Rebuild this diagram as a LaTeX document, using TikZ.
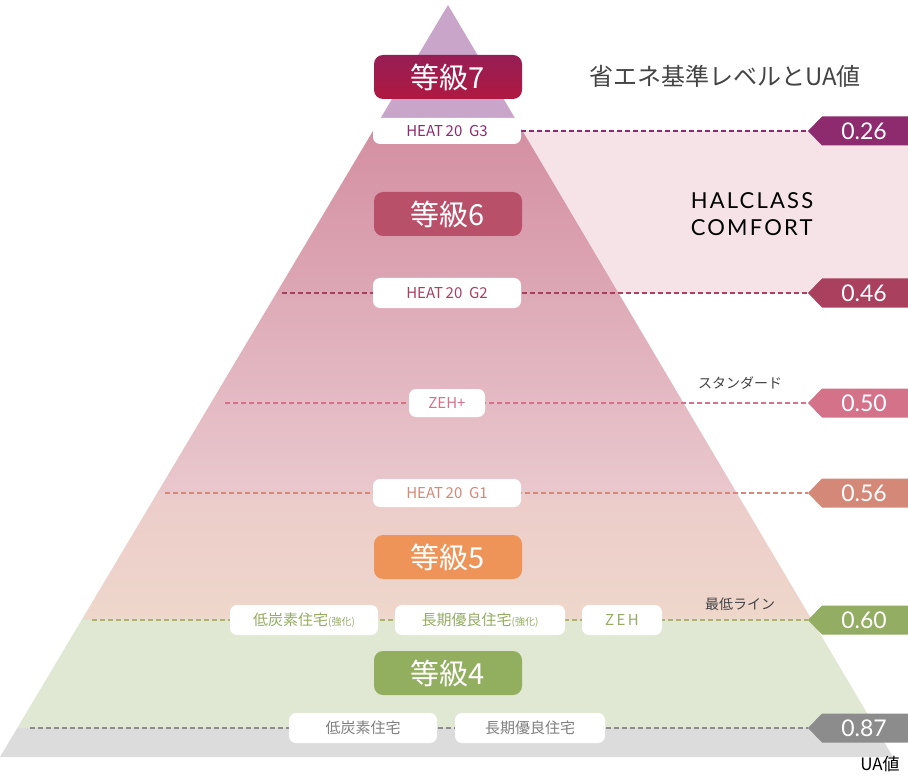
\documentclass[tikz,border=0pt]{standalone}
\usepackage{fontspec}
\setmainfont{Noto Sans CJK JP}
\newfontfamily\jpf{Noto Sans CJK JP}
\newfontfamily\latf{Lato}
\usetikzlibrary{shapes.misc}
\definecolor{cA}{HTML}{8E2A6E}\definecolor{cB}{HTML}{A8405E}\definecolor{cC}{HTML}{D4728A}
\definecolor{cD}{HTML}{D48878}\definecolor{cE}{HTML}{93AD63}\definecolor{cF}{HTML}{8C8C8C}
\definecolor{txt}{HTML}{444444}
\tikzset{
 grade/.style={rounded corners=9pt,minimum width=148pt,minimum height=44pt,text=white,font=\jpf\fontsize{29}{29}\selectfont,inner sep=0pt},
 wbox/.style={fill=white,rounded corners=7pt,minimum height=28pt,inner sep=0pt,font=\fontsize{15}{15}\selectfont},
 dline/.style={dashed,dash pattern=on 5pt off 3pt,line width=1.3pt},
}
\begin{document}
\begin{tikzpicture}[x=1pt,y=-1pt]
\useasboundingbox (0,0) rectangle (908,778);
\fill[white] (0,0) rectangle (908,778);
\fill[color={rgb,255:red,245;green,227;blue,232}] (448,131) rectangle (908,293);
\begin{scope}
\clip (448,5) -- (893,757) -- (0,757) -- cycle;
\fill[color={rgb,255:red,201;green,166;blue,201}] (0,0) rectangle (908,131);
\shade[top color={rgb,255:red,212;green,144;blue,163},bottom color={rgb,255:red,221;green,167;blue,181}] (0,131) rectangle (908,293);
\shade[top color={rgb,255:red,222;green,170;blue,184},bottom color={rgb,255:red,233;green,200;blue,205}] (0,293) rectangle (908,493);
\shade[top color={rgb,255:red,236;green,204;blue,202},bottom color={rgb,255:red,238;green,215;blue,203}] (0,493) rectangle (908,620);
\fill[color={rgb,255:red,224;green,232;blue,212}] (0,620) rectangle (908,728);
\fill[color={rgb,255:red,220;green,220;blue,220}] (0,728) rectangle (908,778);
\end{scope}
% tags
\coordinate (t1) at (808,131);\coordinate (t2) at (808,293);\coordinate (t3) at (808,403);
\coordinate (t4) at (808,493);\coordinate (t5) at (808,620);\coordinate (t6) at (808,728);
\foreach \c/\col/\v in {t1/cA/0.26,t2/cB/0.46,t3/cC/0.50,t4/cD/0.56,t5/cE/0.60,t6/cF/0.87}{
 \fill[\col] (\c) -- ++(14,-14.5) -- ++(86,0) -- ++(0,29) -- ++(-86,0) -- cycle;
 \node[text=white,font=\latf\fontsize{23}{23}\selectfont] at ([xshift=56pt]\c) {\v};
}
% lines
\coordinate (l2) at (282,293);\coordinate (l3) at (225,403);\coordinate (l4) at (165,493);
\coordinate (l5) at (92,620);\coordinate (l6) at (30,728);
\draw[dline,cA] (521,131) -- (t1);
\draw[dline,cB] (l2) -- (t2);
\draw[dline,cC] (l3) -- (t3);
\draw[dline,cD] (l4) -- (t4);
\draw[dline,color={rgb,255:red,170;green,178;blue,110}] (l5) -- (t5);
\draw[dline,cF] (l6) -- (t6);
% grades
\node[grade,top color={rgb,255:red,150;green,30;blue,85},bottom color={rgb,255:red,175;green,25;blue,65}] (g7) at (448,77) {等級7};
\node[grade,fill={rgb,255:red,185;green,80;blue,106}] (g6) at (448,214) {等級6};
\node[grade,fill={rgb,255:red,238;green,148;blue,88}] (g5) at (448,557) {等級5};
\node[grade,fill={rgb,255:red,146;green,174;blue,95}] (g4) at (448,673) {等級4};
% white boxes
\node[wbox,minimum width=148pt,text=cA,minimum height=26pt] (h3) at (447,131) {HEAT\,20\ \ G3};
\node[wbox,minimum width=148pt,text=cB,minimum height=30pt] (h2) at (447,293) {HEAT\,20\ \ G2};
\node[wbox,minimum width=76pt,text=cC] (zp) at (447,403) {ZEH+};
\node[wbox,minimum width=148pt,text=cD] (h1) at (447,493) {HEAT\,20\ \ G1};
\node[wbox,minimum width=148pt,minimum height=30pt,text=cE] (a1) at (304,620) {低炭素住宅{\fontsize{10}{10}\selectfont(強化)}};
\node[wbox,minimum width=170pt,minimum height=30pt,text=cE] (a2) at (480,620) {長期優良住宅{\fontsize{10}{10}\selectfont(強化)}};
\node[wbox,minimum width=80pt,minimum height=30pt,text=cE] (a3) at (622,620) {Z\,E\,H};
\node[wbox,minimum width=148pt,minimum height=30pt,text=gray] (b1) at (363,728) {低炭素住宅};
\node[wbox,minimum width=150pt,minimum height=30pt,text=gray] (b2) at (530,728) {長期優良住宅};
% texts
\node[text=txt,font=\fontsize{24}{24}\selectfont] (ttl) at (725,76) {省エネ基準レベルとUA値};
\node[align=left,font=\latf\fontsize{22}{27}\selectfont\addfontfeatures{LetterSpace=10},text=black] (hc) at (752,214) {HALCLASS\\COMFORT};
\node[text=txt,font=\fontsize{14}{14}\selectfont] (sd) at (740,383) {スタンダード};
\node[text=txt,font=\fontsize{14}{14}\selectfont] (sl) at (740,604) {最低ライン};
\node[text=black,font=\fontsize{17}{17}\selectfont] (ua) at (880,764) {UA値};
\end{tikzpicture}
\end{document}
